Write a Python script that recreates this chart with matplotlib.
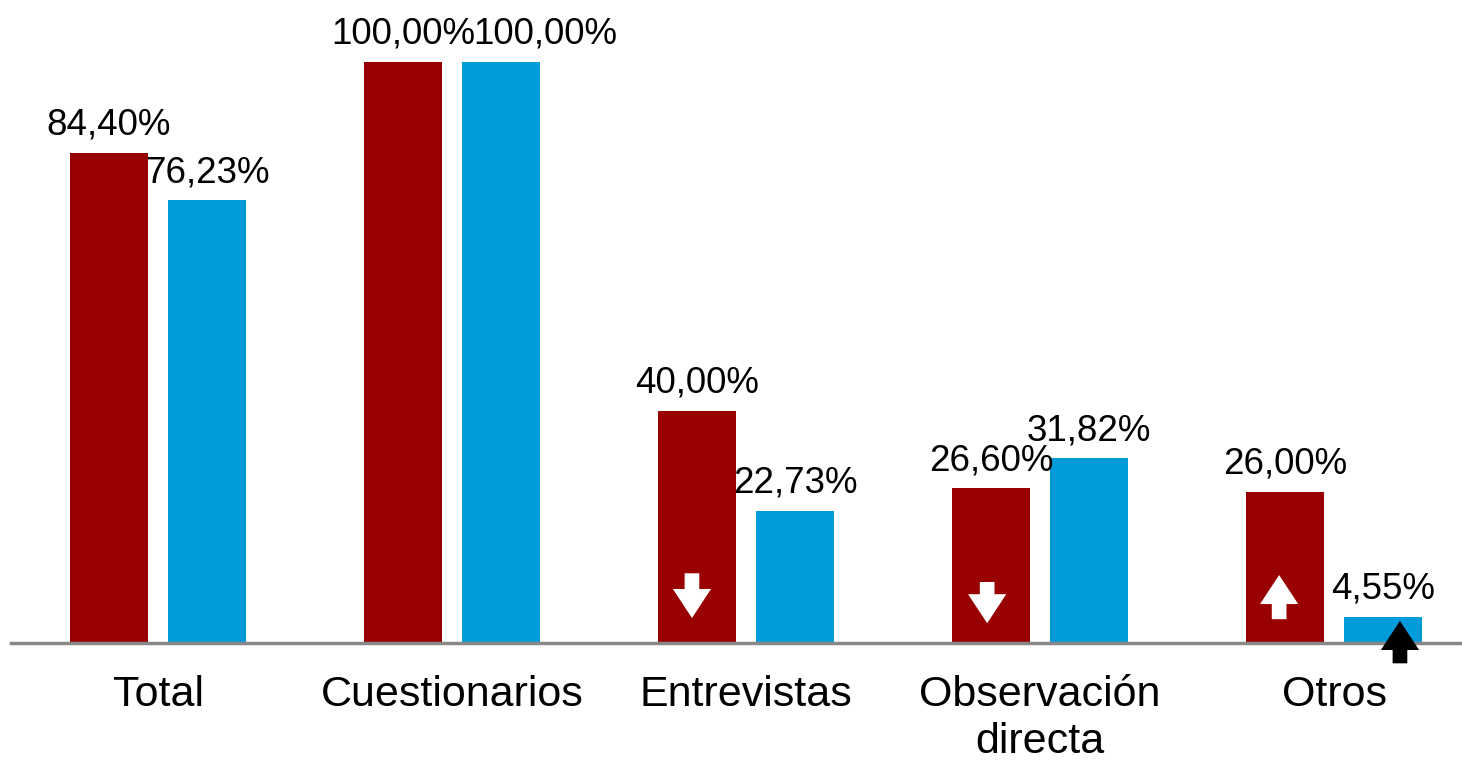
import matplotlib.pyplot as plt
from matplotlib.patches import FancyArrow

# data
categorias = ['Total', 'Cuestionarios', 'Entrevistas', 'Observación\ndirecta', 'Otros']
serie_roja = [84.40, 100.00, 40.00, 26.60, 26.00]
serie_azul = [76.23, 100.00, 22.73, 31.82, 4.55]

rojo = '#990000'
azul = '#009BDB'

plt.rcParams['font.family'] = ['Liberation Sans', 'DejaVu Sans']

fig = plt.figure(figsize=(14.62, 7.6), dpi=100)
ax = fig.add_axes([11 / 1462, 117 / 760, 1451 / 1462, 643 / 760])

x = list(range(len(categorias)))
ancho = 0.265
desp = 0.1667
xr = [i - desp for i in x]
xa = [i + desp for i in x]
ax.bar(xr, serie_roja, width=ancho, color=rojo, zorder=2)
ax.bar(xa, serie_azul, width=ancho, color=azul, zorder=2)

def fmt(v):
    return f'{v:.2f}%'.replace('.', ',')

for serie, xs, vals in (('r', xr, serie_roja), ('a', xa, serie_azul)):
    for i, (xi, v) in enumerate(zip(xs, vals)):
        dx = 32 if (serie == 'a' and i == 1) else 0  # label pushed right to clear its neighbour
        ax.annotate(fmt(v), (xi, v), xytext=(dx, 13), textcoords='offset points',
                    ha='center', va='baseline', fontsize=26.5, color='black', zorder=5)

# arrows (decorations over the bars)
def flecha(xc, y0, y1, color, clip=True):
    a = FancyArrow(xc, y0, 0, y1 - y0, width=0.05, head_width=0.13,
                   head_length=5.0, length_includes_head=True,
                   color=color, lw=0, zorder=4, clip_on=clip)
    ax.add_patch(a)

flecha(1.816, 12.0, 4.3, 'white')
flecha(2.82, 10.5, 3.4, 'white')
flecha(3.813, 4.1, 11.7, 'white')
flecha(4.224, -3.5, 3.8, 'black', clip=False)

ax.set_xlim(-0.5, 4.435)
ax.set_ylim(0, 643 / 581 * 100)
ax.set_xticks(x)
ax.set_xticklabels(categorias, fontsize=31, linespacing=1.22)
ax.tick_params(axis='x', length=0, pad=23)
ax.set_yticks([])
for s in ('top', 'right', 'left'):
    ax.spines[s].set_visible(False)
ax.spines['bottom'].set_color('#888888')
ax.spines['bottom'].set_linewidth(2.5)
ax.spines['bottom'].set_zorder(3)

fig.savefig('out.png', dpi=100)
